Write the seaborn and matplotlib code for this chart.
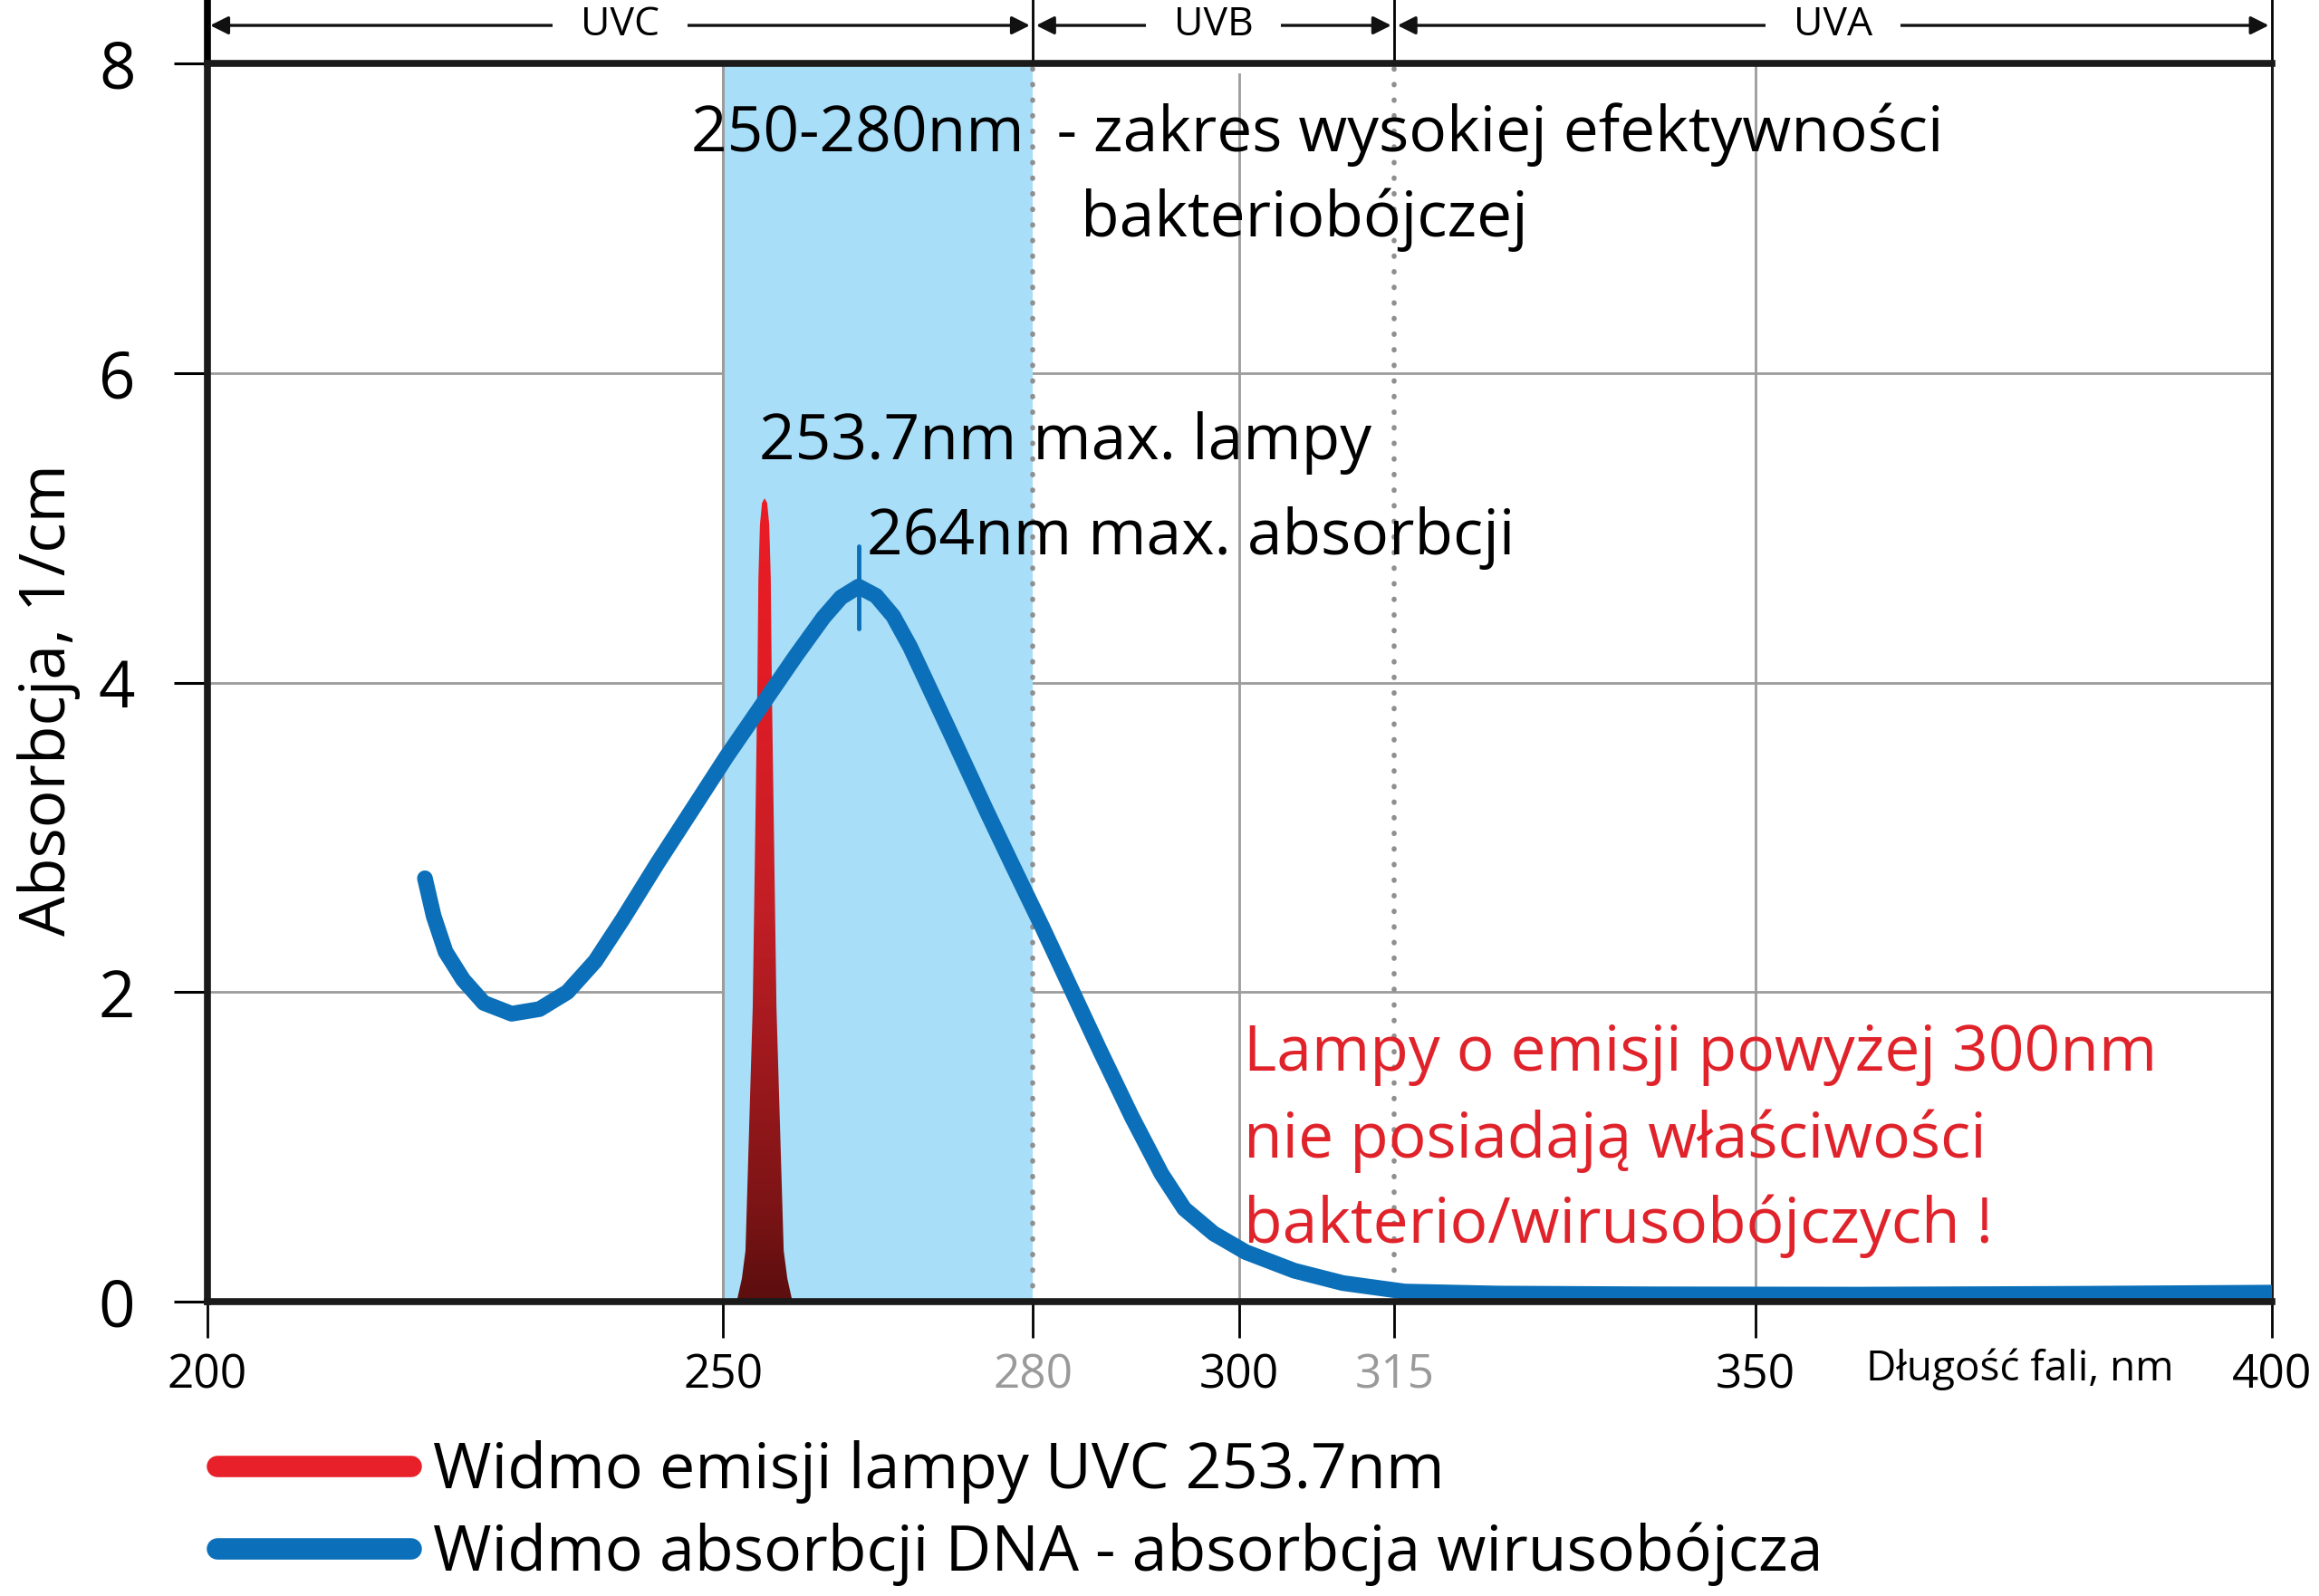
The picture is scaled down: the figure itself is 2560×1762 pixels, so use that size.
import numpy as np
import pandas as pd
import matplotlib
matplotlib.use("Agg")
import matplotlib.pyplot as plt
import matplotlib.transforms as mtransforms
from matplotlib.lines import Line2D
from matplotlib.colors import LinearSegmentedColormap
import seaborn as sns

# ---------------- data ----------------
dna_wavelength = [221.1, 221.95, 223.1, 224.8, 226.8, 229.5, 232.2, 234.9, 237.6, 240.25,
                  243.6, 247.0, 250.3, 253.7, 257.0, 259.7, 261.4, 263.1, 264.8, 266.45,
                  268.1, 272.1, 275.5, 278.0, 280.9, 283.7, 286.5, 289.6, 292.45, 294.65,
                  297.5, 300.6, 305.3, 310.0, 316.0, 325.0, 340.0, 360.0, 380.0, 400.0]
dna_absorption = [2.735, 2.49, 2.26, 2.08, 1.93, 1.86, 1.89, 2.00, 2.20, 2.47,
                  2.83, 3.18, 3.52, 3.85, 4.17, 4.42, 4.55, 4.62, 4.56, 4.43,
                  4.23, 3.66, 3.17, 2.82, 2.42, 2.02, 1.62, 1.19, 0.825, 0.60,
                  0.44, 0.32, 0.20, 0.12, 0.065, 0.052, 0.047, 0.045, 0.05, 0.058]

lamp_wavelength = [251.3, 251.8, 252.15, 252.85, 253.3, 253.4, 253.55, 253.75, 254.0,
                   254.25, 254.45, 254.6, 254.7, 255.15, 255.85, 256.2, 256.7]
lamp_emission = [0.0, 0.15, 0.33, 1.9, 3.98, 4.67, 5.02, 5.16, 5.19,
                 5.16, 5.02, 4.67, 3.98, 1.9, 0.33, 0.15, 0.0]

dna_peak_nm = 263.1
dna_peak_marker = [4.35, 4.88]

x_ticks = [200, 250, 280, 300, 315, 350, 400]
x_tick_labels = ["200", "250", "280", "300", "315", "350", "400"]
y_ticks = [0, 2, 4, 6, 8]
band_edges = [200, 280, 315, 400]
band_names = ["UVC", "UVB", "UVA"]
germicidal_range = [250, 280]

title_line1 = "250-280nm  - zakres wysokiej efektywności"
title_line2 = "bakteriobójczej"
lamp_label = "253.7nm max. lampy"
dna_label = "264nm max. absorbcji"
warning_lines = ["Lampy o emisji powyżej 300nm",
                 "nie posiadają właściwości",
                 "bakterio/wirusobójczych !"]
legend_labels = ["Widmo emisji lampy UVC 253.7nm",
                 "Widmo absorbcji DNA - absorbcja wirusobójcza"]

# ---------------- style ----------------
sns.set_theme(style="white")
plt.rcParams["font.family"] = ["Open Sans", "DejaVu Sans"]
plt.rcParams["text.color"] = "black"
plt.rcParams["axes.labelcolor"] = "black"

BLUE = "#0b70b9"
RED = "#e8202a"
SHADE = "#a9def8"
GRID = "#9c9c9c"

fig = plt.figure(figsize=(25.6, 17.62), dpi=100)
fig.patch.set_facecolor("white")
ax = fig.add_axes([0.0893, 0.18445, 0.8904, 0.77582])
ax.set_facecolor("white")

ax.set_xlim(200, 400)
ax.set_ylim(0, 8)

# horizontal grid
for yv in y_ticks[1:-1]:
    ax.axhline(yv, color=GRID, lw=2.0, zorder=0.5)
# vertical grid
for xv in [250, 300, 350]:
    ax.axvline(xv, color=GRID, lw=2.0, zorder=0.5)

# shaded germicidal range
ax.axvspan(germicidal_range[0], germicidal_range[1], color=SHADE, lw=0, zorder=1)
ax.axvline(250, color=GRID, lw=2.2, zorder=1.2)
for xv in [280, 315]:
    ax.axvline(xv, color="#8f8f8f", lw=4.0, ls=(0, (0.1, 3.0)),
               dash_capstyle="round", zorder=1.2)

# lamp emission spike with vertical gradient
poly = ax.fill(lamp_wavelength, lamp_emission, facecolor="none", edgecolor="none", zorder=3)[0]
cmap = LinearSegmentedColormap.from_list(
    "lamp", [(0.0, "#5c0e0f"), (0.12, "#7d1416"), (0.5, "#c41f26"), (0.8, "#e21c25"), (1.0, "#ea1c24")])
grad = np.linspace(0, 1, 256).reshape(-1, 1)
im = ax.imshow(grad, cmap=cmap, origin="lower", aspect="auto",
               extent=[min(lamp_wavelength), max(lamp_wavelength), 0, max(lamp_emission)],
               zorder=3, interpolation="bilinear")
im.set_clip_path(poly)

# DNA absorption curve
df = pd.DataFrame({"wl": dna_wavelength, "abs": dna_absorption})
sns.lineplot(data=df, x="wl", y="abs", ax=ax, color=BLUE, lw=12.5, sort=False,
             zorder=4, solid_capstyle="round", solid_joinstyle="round", legend=False)
ax.plot([dna_peak_nm, dna_peak_nm], dna_peak_marker, color=BLUE, lw=3.5, zorder=4)

ax.set_xlim(200, 400)
ax.set_ylim(0, 8)

# spines
for s in ["left", "top", "bottom"]:
    ax.spines[s].set_linewidth(5.5)
    ax.spines[s].set_color("#1a1a1a")
    ax.spines[s].set_zorder(6)
ax.spines["right"].set_linewidth(2.2)
ax.spines["right"].set_color("#1a1a1a")

# ticks
ax.set_xticks(x_ticks)
ax.set_xticklabels(x_tick_labels)
ax.set_yticks(y_ticks)
ax.set_yticklabels([str(v) for v in y_ticks])
ax.tick_params(axis="x", direction="out", length=29, width=2.0, pad=12,
               labelsize=37, colors="black", bottom=True)
ax.tick_params(axis="y", direction="out", length=27, width=2.2, pad=30,
               labelsize=51, colors="black", left=True)
for lbl, tick, val in zip(ax.get_xticklabels(), ax.xaxis.get_major_ticks(), x_ticks):
    if val in (280, 315):
        lbl.set_color("#9a9a9a")
        tick.tick1line.set_color("#9a9a9a")
ax.set_xlabel("")
ax.set_ylabel("Absorbcja, 1/cm", fontsize=50)
ax.yaxis.label.set_va("center")
ax.yaxis.set_label_coords(-0.0766, 0.486)

trans = mtransforms.blended_transform_factory(ax.transData, ax.transAxes)
ax.text(375.6, -0.0549, "Długość fali, nm", transform=trans, fontsize=33,
        ha="center", va="center")

# banner with UV bands
for xv in band_edges:
    ax.plot([xv, xv], [1.0, 1.052], transform=trans, color="black",
            lw=2.0 if xv != 200 else 5.5, clip_on=False, zorder=6)
arrow_y = 1.0307
for (x0, x1), name in zip(zip(band_edges[:-1], band_edges[1:]), band_names):
    ax.annotate("", xy=(x0 + 0.3, arrow_y), xytext=(x1 - 0.3, arrow_y),
                xycoords=trans, textcoords=trans,
                arrowprops=dict(arrowstyle="<|-|>", color="#111111", lw=2.4,
                                shrinkA=0, shrinkB=0, mutation_scale=30))
    ax.text((x0 + x1) / 2, arrow_y, name, transform=trans, fontsize=32,
            ha="center", va="center", zorder=5.5, clip_on=False,
            bbox=dict(facecolor="white", edgecolor="none", pad=22))

# annotations
ax.text(246.9, 7.43, title_line1, fontsize=50, ha="left", va="baseline", zorder=7)
ax.text(284.6, 6.88, title_line2, fontsize=50, ha="left", va="baseline", zorder=7)
ax.text(253.5, 5.44, lamp_label, fontsize=50, ha="left", va="baseline", zorder=7)
ax.text(263.9, 4.83, dna_label, fontsize=50, ha="left", va="baseline", zorder=7)
for yv, line in zip([1.49, 0.933, 0.38], warning_lines):
    ax.text(300.4, yv, line, fontsize=50, color="#e0232b", ha="left", va="baseline", zorder=7)

# legend
handles = [Line2D([], [], color=RED, lw=17, solid_capstyle="round"),
           Line2D([], [], color=BLUE, lw=17, solid_capstyle="round")]
fig.legend(handles, legend_labels, loc="upper left",
           bbox_to_anchor=(240 / 2560, 1 - 1590 / 1762), frameon=False,
           fontsize=50.3, handlelength=3.06, handletextpad=0.34, labelspacing=0.3,
           borderpad=0, borderaxespad=0)

fig.savefig("out.png", dpi=100, facecolor="white")
